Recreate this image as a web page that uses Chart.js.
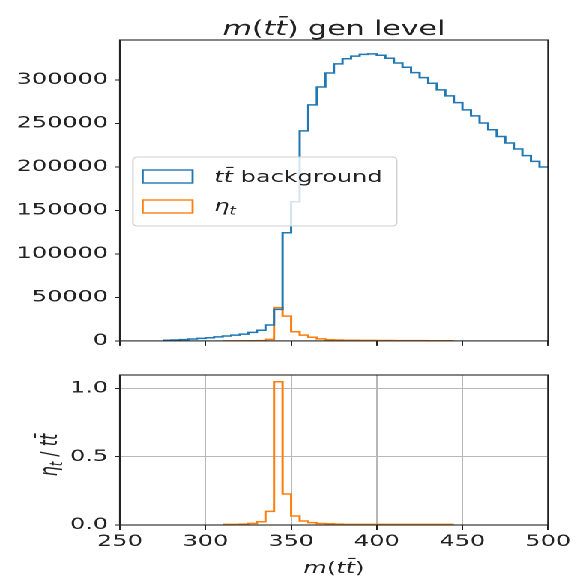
<!DOCTYPE html>
<html>
<head>
<meta charset="utf-8">
<script src="https://cdn.jsdelivr.net/npm/chart.js@4.4.0/dist/chart.umd.min.js"></script>
<style>
  html, body { margin: 0; padding: 0; background: #fff; overflow: hidden; }
  /* the reference is stretched sideways, so draw narrow and widen */
  #stretch { position: absolute; left: 0; top: 0; width: 385px; height: 577px;
             transform: scaleX(1.4987); transform-origin: 0 0; }
  #stretch canvas { position: absolute; left: 0; }
  #mainPlot { top: 0; }
  #ratioPlot { top: 355px; }
</style>
</head>
<body>
<div id="stretch">
  <canvas id="mainPlot" width="385" height="355"></canvas>
  <canvas id="ratioPlot" width="385" height="222"></canvas>
</div>
<script>
// bin edges of m(tt) in GeV
const binEdges = [250, 255, 260, 265, 270, 275, 280, 285, 290, 295,
                  300, 305, 310, 315, 320, 325, 330, 335, 340, 345,
                  350, 355, 360, 365, 370, 375, 380, 385, 390, 395,
                  400, 405, 410, 415, 420, 425, 430, 435, 440, 445,
                  450, 455, 460, 465, 470, 475, 480, 485, 490, 495, 500];

// tt background, one value per bin
const ttbarCounts = [null, null, null, null, null, 700, 1000, 1500, 2200, 2900,
                     3600, 4600, 5600, 6600, 7800, 9800, 12300, 18300, 36300, 124300,
                     160000, 241500, 271400, 292000, 308000, 318500, 324500, 327500, 329500, 330000,
                     328500, 325000, 319500, 314700, 308500, 302800, 296300, 288600, 281800, 274000,
                     265700, 258800, 250500, 242800, 235000, 227500, 220600, 213000, 206400, 200000];

// eta_t signal, one value per bin
const etaCounts = [null, null, null, null, null, null, null, null, null, null,
                   null, null, 30, 35, 45, 115, 300, 1800, 38300, 28500,
                   10500, 6600, 4200, 2300, 1300, 1100, 800, 700, 600, 550,
                   500, 400, 350, 300, 280, 250, 220, 200, 180, null,
                   null, null, null, null, null, null, null, null, null, null];

// eta_t / tt ratio per bin
const ratioValues = [null, null, null, null, null, null, null, null, null, null,
                     null, null, 0.005, 0.005, 0.006, 0.012, 0.024, 0.10, 1.048, 0.227,
                     0.066, 0.029, 0.017, 0.011, 0.009, 0.006, 0.005, 0.005, 0.005, 0.005,
                     0.005, 0.005, 0.005, 0.005, 0.005, 0.005, 0.005, 0.005, 0.005, null,
                     null, null, null, null, null, null, null, null, null, null];

const yTicksMain = [0, 50000, 100000, 150000, 200000, 250000, 300000];
const yTicksRatio = [0, 0.5, 1.0];
const xTicks = [250, 300, 350, 400, 450, 500];

const BLUE = '#1f77b4';
const ORANGE = '#ff7f0e';
const FAMILY = "'DejaVu Sans'";
const INK = '#222';

// turn a histogram into an outline: two points per bin
function stepPoints(values) {
  const pts = [];
  values.forEach((v, i) => {
    pts.push({ x: binEdges[i], y: v });
    pts.push({ x: binEdges[i + 1], y: v });
  });
  return pts;
}

// draw text made of upright / italic / subscript parts
function fontFor(p, size) {
  const s = p.sub ? size * 0.7 : size;
  return (p.it ? 'italic ' : '') + s + 'px ' + FAMILY;
}
function drawMath(ctx, parts, x, y, size, align) {
  ctx.save();
  ctx.fillStyle = INK;
  ctx.textBaseline = 'alphabetic';
  ctx.textAlign = 'left';
  let total = 0;
  parts.forEach(p => { ctx.font = fontFor(p, size); total += ctx.measureText(p.t).width; });
  let cx = align === 'center' ? x - total / 2 : x;
  parts.forEach(p => {
    ctx.font = fontFor(p, size);
    ctx.fillText(p.t, cx, y + (p.sub ? size * 0.22 : 0));
    cx += ctx.measureText(p.t).width;
  });
  ctx.restore();
}

const TTBAR = [{ t: 'tt\u0304', it: true }];
const mTT = [{ t: 'm', it: true }, { t: '(' }, { t: 'tt\u0304', it: true }, { t: ')' }];

// box around the axes, like matplotlib spines
const framePlugin = {
  id: 'frame',
  afterDraw(chart) {
    const a = chart.chartArea, ctx = chart.ctx;
    ctx.save();
    ctx.strokeStyle = INK;
    ctx.lineWidth = 1.1;
    ctx.strokeRect(a.left, a.top, a.right - a.left, a.bottom - a.top);
    ctx.restore();
  }
};

const titlePlugin = {
  id: 'mathTitle',
  afterDraw(chart) {
    const a = chart.chartArea;
    drawMath(chart.ctx, mTT.concat([{ t: ' gen level' }]), (a.left + a.right) / 2, 35, 20, 'center');
  }
};

const legendPlugin = {
  id: 'mathLegend',
  afterDatasetsDraw(chart) {
    const ctx = chart.ctx;
    ctx.save();
    ctx.beginPath();
    ctx.roundRect(88.7, 157, 176, 69, 3);
    ctx.fillStyle = 'rgba(255,255,255,0.8)';
    ctx.fill();
    ctx.strokeStyle = '#d0d0d0';
    ctx.lineWidth = 1;
    ctx.stroke();
    ctx.lineWidth = 1.4;
    ctx.strokeStyle = BLUE;
    ctx.strokeRect(95.2, 170, 33.3, 13);
    ctx.strokeStyle = ORANGE;
    ctx.strokeRect(95.2, 200, 33.3, 13);
    ctx.restore();
    drawMath(ctx, TTBAR.concat([{ t: ' background' }]), 142.9, 182, 16, 'left');
    drawMath(ctx, [{ t: '\u03b7', it: true }, { t: 't', it: true, sub: true }], 142.9, 211, 16, 'left');
  }
};

const ratioTitlePlugin = {
  id: 'ratioTitles',
  afterDraw(chart) {
    const a = chart.chartArea, ctx = chart.ctx;
    drawMath(ctx, mTT, (a.left + a.right) / 2, 218, 16, 'center');
    ctx.save();
    ctx.translate(38, (a.top + a.bottom) / 2 + 5);
    ctx.rotate(-Math.PI / 2);
    drawMath(ctx, [{ t: '\u03b7', it: true }, { t: 't', it: true, sub: true }, { t: ' / ' }].concat(TTBAR), 0, 0, 16, 'center');
    ctx.restore();
  }
};

const tickFont = { family: FAMILY, size: 16 };

function lineSet(values, color) {
  return {
    data: stepPoints(values),
    borderColor: color,
    borderWidth: 1.5,
    pointRadius: 0,
    fill: false,
    spanGaps: false,
    tension: 0
  };
}

const common = {
  responsive: false,
  animation: false,
  devicePixelRatio: 2,
  events: [],
  plugins: { legend: { display: false }, tooltip: { enabled: false } }
};

// upper panel
new Chart(document.getElementById('mainPlot').getContext('2d'), {
  type: 'line',
  data: { datasets: [lineSet(ttbarCounts, BLUE), lineSet(etaCounts, ORANGE)] },
  plugins: [legendPlugin, framePlugin, titlePlugin],
  options: Object.assign({}, common, {
    layout: { padding: { left: 0, right: 19.3, top: 40, bottom: 0 } },
    scales: {
      x: {
        type: 'linear', min: 250, max: 500,
        afterBuildTicks: s => { s.ticks = xTicks.map(v => ({ value: v })); },
        ticks: { display: false },
        grid: { drawOnChartArea: false, tickLength: 5, tickColor: INK },
        border: { display: false },
        afterFit: s => { s.height = 13; }
      },
      y: {
        type: 'linear', min: 0, max: 346000,
        afterBuildTicks: s => { s.ticks = yTicksMain.map(v => ({ value: v })); },
        ticks: { color: INK, font: tickFont, padding: 4.5, callback: v => String(v) },
        grid: { drawOnChartArea: false, tickLength: 3.3, tickColor: INK },
        border: { display: false },
        afterFit: s => { s.width = 80; }
      }
    }
  })
});

// ratio panel
new Chart(document.getElementById('ratioPlot').getContext('2d'), {
  type: 'line',
  data: { datasets: [lineSet(ratioValues, ORANGE)] },
  plugins: [framePlugin, ratioTitlePlugin],
  options: Object.assign({}, common, {
    layout: { padding: { left: 0, right: 19.3, top: 20, bottom: 0 } },
    scales: {
      x: {
        type: 'linear', min: 250, max: 500,
        afterBuildTicks: s => { s.ticks = xTicks.map(v => ({ value: v })); },
        ticks: { color: INK, font: tickFont, padding: 2, maxRotation: 0, autoSkip: false },
        grid: { color: '#b8b8b8', lineWidth: 1, tickLength: 5, tickColor: INK },
        border: { display: false },
        afterFit: s => { s.height = 52; }
      },
      y: {
        type: 'linear', min: 0, max: 1.097,
        afterBuildTicks: s => { s.ticks = yTicksRatio.map(v => ({ value: v })); },
        ticks: { color: INK, font: tickFont, padding: 4.5, callback: v => v.toFixed(1) },
        grid: { color: '#b8b8b8', lineWidth: 1, tickLength: 3.3, tickColor: INK },
        border: { display: false },
        afterFit: s => { s.width = 80; }
      }
    }
  })
});
</script>
</body>
</html>
